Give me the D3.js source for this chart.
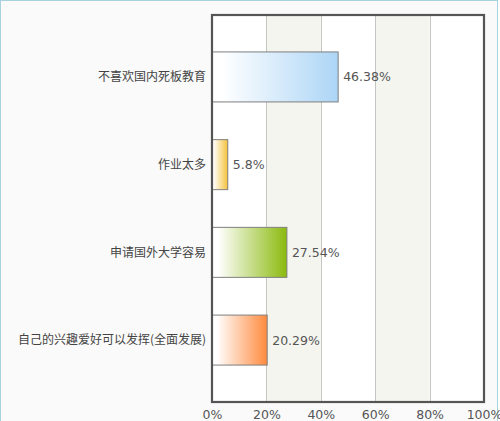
<!DOCTYPE html>
<html>
<head>
  <meta charset="utf-8">
  <title>chart</title>
  <style>
    body { margin: 0; background: #fff; }
    .tick text { font-family: "DejaVu Sans", Verdana, sans-serif; font-size: 12.5px; fill: #555; }
    .cat { font-family: "Noto Sans CJK SC", sans-serif; font-size: 12px; fill: #444; text-anchor: end; }
    .val { font-family: "DejaVu Sans", Verdana, sans-serif; font-size: 12.5px; fill: #555; }
  </style>
</head>
<body>
<script src="https://d3js.org/d3.v7.min.js"></script>
<script>
  var categories = ['不喜欢国内死板教育', '作业太多', '申请国外大学容易', '自己的兴趣爱好可以发挥(全面发展)'];
  var values = [46.38, 5.8, 27.54, 20.29];
  var barColors = ['#acd5f6', '#f4c23c', '#8bba0e', '#ff8a3d'];
  var ticks = [0, 20, 40, 60, 80, 100];

  var width = 500, height = 421;
  var plot = {left: 212, right: 484, top: 15, bottom: 402};

  var svg = d3.select('body').append('svg')
    .attr('width', width)
    .attr('height', height);

  // page background and light blue frame
  svg.append('rect')
    .attr('x', 0.5).attr('y', 0.5)
    .attr('width', 497).attr('height', height + 5)
    .attr('fill', '#fafafa')
    .attr('stroke', '#a9d2e0');

  var xScale = d3.scaleLinear().domain([0, 100]).range([plot.left, plot.right]);
  var yScale = d3.scalePoint().domain(categories).range([plot.top, plot.bottom]).padding(0.706);
  var barH = yScale.step() * 0.57;

  var defs = svg.append('defs');
  barColors.forEach(function(c, i) {
    var g = defs.append('linearGradient').attr('id', 'grad' + i)
      .attr('x1', '0%').attr('x2', '100%').attr('y1', '0%').attr('y2', '0%');
    g.append('stop').attr('offset', '0%').attr('stop-color', '#fff');
    g.append('stop').attr('offset', '8%').attr('stop-color', '#fff');
    g.append('stop').attr('offset', '100%').attr('stop-color', c);
  });

  // plot background with alternating bands
  svg.append('rect')
    .attr('x', plot.left).attr('y', plot.top)
    .attr('width', plot.right - plot.left).attr('height', plot.bottom - plot.top)
    .attr('fill', '#fff');

  svg.selectAll('.band')
    .data([20, 60])
    .enter().append('rect')
    .attr('class', 'band')
    .attr('x', function(d) { return xScale(d); })
    .attr('y', plot.top)
    .attr('width', xScale(20) - xScale(0))
    .attr('height', plot.bottom - plot.top)
    .attr('fill', '#f5f5f0');

  svg.selectAll('.grid')
    .data(ticks.slice(1, -1))
    .enter().append('line')
    .attr('class', 'grid')
    .attr('x1', function(d) { return Math.round(xScale(d)) + 0.5; })
    .attr('x2', function(d) { return Math.round(xScale(d)) + 0.5; })
    .attr('y1', plot.top).attr('y2', plot.bottom)
    .attr('stroke', '#c4c4c0');

  // bars
  svg.selectAll('.bar')
    .data(values)
    .enter().append('rect')
    .attr('class', 'bar')
    .attr('x', xScale(0))
    .attr('y', function(d, i) { return yScale(categories[i]) - barH / 2; })
    .attr('width', function(d) { return xScale(d) - xScale(0); })
    .attr('height', barH)
    .attr('fill', function(d, i) { return 'url(#grad' + i + ')'; })
    .attr('stroke', '#7f7f7f')
    .attr('stroke-width', 1);

  svg.selectAll('.val')
    .data(values)
    .enter().append('text')
    .attr('class', 'val')
    .attr('x', function(d) { return xScale(d) + 5; })
    .attr('y', function(d, i) { return yScale(categories[i]); })
    .attr('dy', '0.36em')
    .text(function(d) { return d + '%'; });

  svg.selectAll('.cat')
    .data(categories)
    .enter().append('text')
    .attr('class', 'cat')
    .attr('x', 206)
    .attr('y', function(d) { return yScale(d); })
    .attr('dy', '0.36em')
    .text(function(d) { return d; });

  // frame
  svg.append('rect')
    .attr('x', plot.left).attr('y', plot.top)
    .attr('width', plot.right - plot.left).attr('height', plot.bottom - plot.top)
    .attr('fill', 'none')
    .attr('stroke', '#555')
    .attr('stroke-width', 2.2);

  var xAxis = d3.axisBottom(xScale)
    .tickValues(ticks)
    .tickSize(0)
    .tickPadding(8)
    .tickFormat(function(d) { return d + '%'; });

  var xAxisG = svg.append('g')
    .attr('transform', 'translate(0,' + plot.bottom + ')')
    .call(xAxis);
  xAxisG.select('.domain').remove();
</script>
</body>
</html>
